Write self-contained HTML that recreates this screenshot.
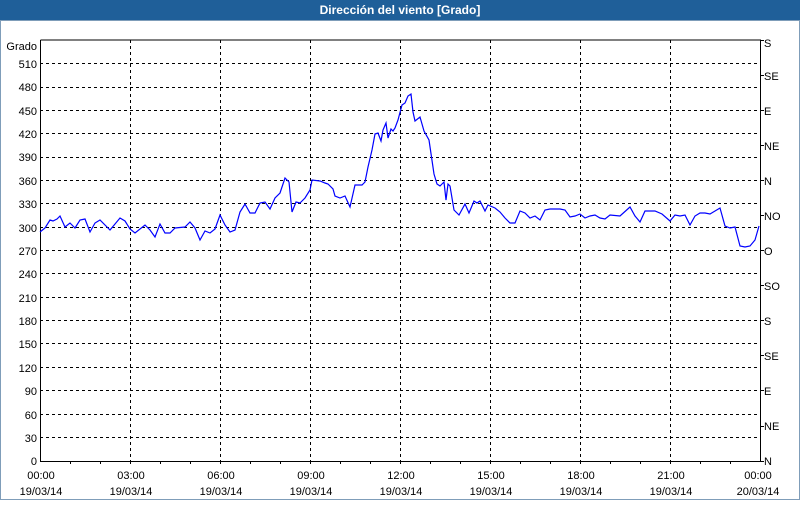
<!DOCTYPE html>
<html><head><meta charset="utf-8"><style>
html,body{margin:0;padding:0;background:#fff}
body{width:800px;height:500px;overflow:hidden}
</style></head><body>
<svg width="800" height="500" xmlns="http://www.w3.org/2000/svg" font-family="Liberation Sans, DejaVu Sans, sans-serif" font-size="11">
<rect x="0" y="0" width="800" height="500" fill="#fff"/>
<rect x="0" y="0" width="800" height="20" fill="#1f5f99"/>
<rect x="0.5" y="20.5" width="799" height="479" fill="none" stroke="#7f9db9"/>
<text x="400" y="14" fill="#fff" font-weight="bold" font-size="12" text-anchor="middle">Dirección del viento [Grado]</text>
<g stroke="#000" stroke-dasharray="3,3" stroke-width="1" fill="none">
<path d="M40 437.5H760M40 414.5H760M40 390.5H760M40 367.5H760M40 343.5H760M40 320.5H760M40 297.5H760M40 273.5H760M40 250.5H760M40 227.5H760M40 203.5H760M40 180.5H760M40 157.5H760M40 133.5H760M40 110.5H760M40 87.5H760M40 63.5H760"/>
<path d="M130.5 40V461M220.5 40V461M310.5 40V461M400.5 40V461M490.5 40V461M580.5 40V461M670.5 40V461"/>
</g>
<g stroke="#000" fill="none">
<path d="M40.5 40V461.5H760.5V40H40.5"/>
<path d="M70.5 461v3M100.5 461v3M130.5 461v3M160.5 461v3M190.5 461v3M220.5 461v3M250.5 461v3M280.5 461v3M310.5 461v3M340.5 461v3M370.5 461v3M400.5 461v3M430.5 461v3M460.5 461v3M490.5 461v3M520.5 461v3M550.5 461v3M580.5 461v3M610.5 461v3M640.5 461v3M670.5 461v3M700.5 461v3M730.5 461v3"/>
<path d="M760 40.5h4M760 75.5h4M760 110.5h4M760 145.5h4M760 180.5h4M760 215.5h4M760 250.5h4M760 285.5h4M760 320.5h4M760 355.5h4M760 390.5h4M760 426.5h4M760 461.5h4"/>
</g>
<g text-anchor="end" fill="#000">
<text x="37" y="50">Grado</text>
<text x="37" y="68">510</text><text x="37" y="91">480</text><text x="37" y="115">450</text><text x="37" y="138">420</text><text x="37" y="161">390</text><text x="37" y="185">360</text><text x="37" y="208">330</text><text x="37" y="232">300</text><text x="37" y="255">270</text><text x="37" y="278">240</text><text x="37" y="302">210</text><text x="37" y="325">180</text><text x="37" y="348">150</text><text x="37" y="372">120</text><text x="37" y="395">90</text><text x="37" y="419">60</text><text x="37" y="442">30</text><text x="37" y="465">0</text>
</g>
<g fill="#000">
<text x="764" y="47">S</text><text x="764" y="80">SE</text><text x="764" y="115">E</text><text x="764" y="150">NE</text><text x="764" y="185">N</text><text x="764" y="220">NO</text><text x="764" y="255">O</text><text x="764" y="290">SO</text><text x="764" y="325">S</text><text x="764" y="360">SE</text><text x="764" y="395">E</text><text x="764" y="430">NE</text><text x="764" y="465">N</text>
</g>
<g text-anchor="middle" fill="#000">
<text x="41" y="479">00:00</text><text x="41" y="495">19/03/14</text>
<text x="131" y="479">03:00</text><text x="131" y="495">19/03/14</text>
<text x="221" y="479">06:00</text><text x="221" y="495">19/03/14</text>
<text x="311" y="479">09:00</text><text x="311" y="495">19/03/14</text>
<text x="401" y="479">12:00</text><text x="401" y="495">19/03/14</text>
<text x="491" y="479">15:00</text><text x="491" y="495">19/03/14</text>
<text x="581" y="479">18:00</text><text x="581" y="495">19/03/14</text>
<text x="671" y="479">21:00</text><text x="671" y="495">19/03/14</text>
<text x="758" y="479">00:00</text><text x="758" y="495">20/03/14</text>
</g>
<polyline fill="none" stroke="#0000ff" stroke-width="1.2" points="40,232 45,228 50,220 53,221 57,219 60,216 65,227 70,223 75,228 80,220 85,219 90,232 95,223 100,220 110,230 120,218 125,221 130,229 135,233 145,225 150,230 155,237 160,224 165,233 170,233 175,228 185,227 190,222 195,228 200,240 205,231 210,233 215,229 220,215 225,225 230,232 235,230 240,212 245,204 250,213 255,213 260,203 265,202 270,209 275,198 280,193 285,178 289,182 292,212 296,202 300,203 305,198 310,190 312,180 320,181 325,183 328,184 333,189 335,196 340,198 345,196 350,207 355,185 362,185 365,182 368,167 372,150 375,134 378,133 381,141 383,130 386,123 388,138 391,129 393,131 395,128 398,120 402,105 405,103 408,96 411,94 413,112 415,121 420,117 424,131 429,140 434,174 437,184 440,186 444,182 446,200 448,184 450,186 454,210 459,215 465,204 469,213 474,201 477,203 480,201 485,211 488,205 495,208 500,212 505,218 510,223 515,223 520,211 525,213 530,218 535,216 540,220 545,210 550,209 560,209 565,210 570,217 575,216 580,214 585,218 590,216 595,215 600,218 605,219 610,215 620,216 630,207 635,216 640,222 645,211 655,211 662,214 670,221 675,215 680,216 685,215 690,225 695,216 700,213 705,213 710,214 720,208 725,226 730,228 735,227 740,246 745,247 750,246 755,240 759,226"/>
</svg>
</body></html>
